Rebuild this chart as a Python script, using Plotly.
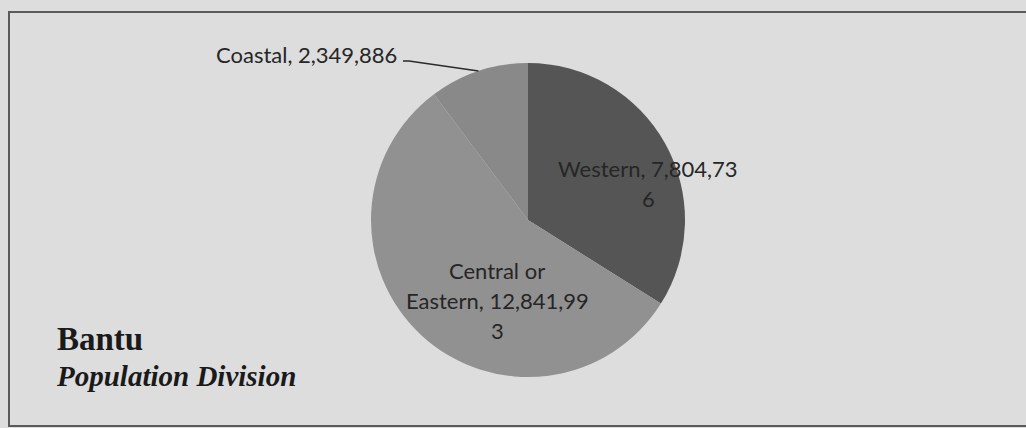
import math
import plotly.graph_objects as go

# Bantu population by division
regions = ["Western", "Central or Eastern", "Coastal"]
population = [7804736, 12841993, 2349886]
slice_colors = ["#555555", "#919191", "#898989"]
# character positions where each data label wraps onto a new line
label_breaks = [[17], [10, 29], []]
inside_label = [True, True, False]

title_text = "Bantu"
subtitle_text = "Population Division"

W, H = 1026, 428
CX, CY, R = 528, 220, 157  # pie centre and radius in pixels


def px(x):
    return x / W


def py(y):
    return 1 - y / H


def split_label(text, breaks):
    parts, prev = [], 0
    for b in breaks + [len(text)]:
        parts.append(text[prev:b].strip())
        prev = b
    return [p for p in parts if p]


fig = go.Figure(
    go.Pie(
        labels=regions,
        values=population,
        sort=False,
        direction="clockwise",
        rotation=0,
        textinfo="none",
        hoverinfo="label+value",
        marker=dict(colors=slice_colors, line=dict(width=0)),
        domain=dict(x=[px(CX - R), px(CX + R)], y=[py(CY + R), py(CY - R)]),
        showlegend=False,
    )
)

label_font = dict(family="Lato, Carlito, sans-serif", size=22, color="#262626")

total = sum(population)
start = 0.0
annotations = []
shapes = []
inside_pos = [(648, 168), (497, 270)]
for i, (name, val) in enumerate(zip(regions, population)):
    frac = val / total
    mid = (start + frac / 2) * 2 * math.pi
    start += frac
    lines = split_label(f"{name}, {val:,}", label_breaks[i])
    if inside_label[i]:
        x0, y0 = inside_pos[i]
        for k, line in enumerate(lines):
            annotations.append(dict(
                x=px(x0), y=py(y0 + 30 * k), xref="paper", yref="paper",
                text=line, showarrow=False, xanchor="center", yanchor="middle",
                font=label_font,
            ))
    else:
        # outside label with leader line to the slice edge
        ex = CX + R * math.sin(mid)
        ey = CY - R * math.cos(mid)
        tx, ty = 399, 55
        annotations.append(dict(
            x=px(tx), y=py(ty), xref="paper", yref="paper",
            text=lines[0], showarrow=False, xanchor="right", yanchor="middle",
            font=label_font,
        ))
        shapes.append(dict(
            type="path", xref="paper", yref="paper",
            path=f"M {px(tx + 4)} {py(ty + 6)} L {px(tx + 10)} {py(ty + 6)} L {px(ex)} {py(ey)}",
            line=dict(color="#2a2a2a", width=1.5),
        ))

annotations.append(dict(
    x=px(55), y=py(339), xref="paper", yref="paper", text=title_text,
    showarrow=False, xanchor="left", yanchor="middle",
    font=dict(family="Liberation Serif, Times New Roman, serif", size=33,
              color="#1a1a1a", weight="bold"),
))
annotations.append(dict(
    x=px(54), y=py(376), xref="paper", yref="paper", text=subtitle_text,
    showarrow=False, xanchor="left", yanchor="middle",
    font=dict(family="Liberation Serif, Times New Roman, serif", size=29,
              color="#1a1a1a", weight="bold", style="italic"),
))

# frame around the chart area
shapes.append(dict(
    type="rect", xref="paper", yref="paper",
    x0=px(9), x1=px(1040), y0=py(426), y1=py(12),
    line=dict(color="#5a5a5a", width=2), layer="below",
))

fig.update_layout(
    width=W, height=H,
    margin=dict(l=0, r=0, t=0, b=0),
    paper_bgcolor="#dddddd",
    plot_bgcolor="#dddddd",
    annotations=annotations,
    shapes=shapes,
)

fig.write_html("out.html")
